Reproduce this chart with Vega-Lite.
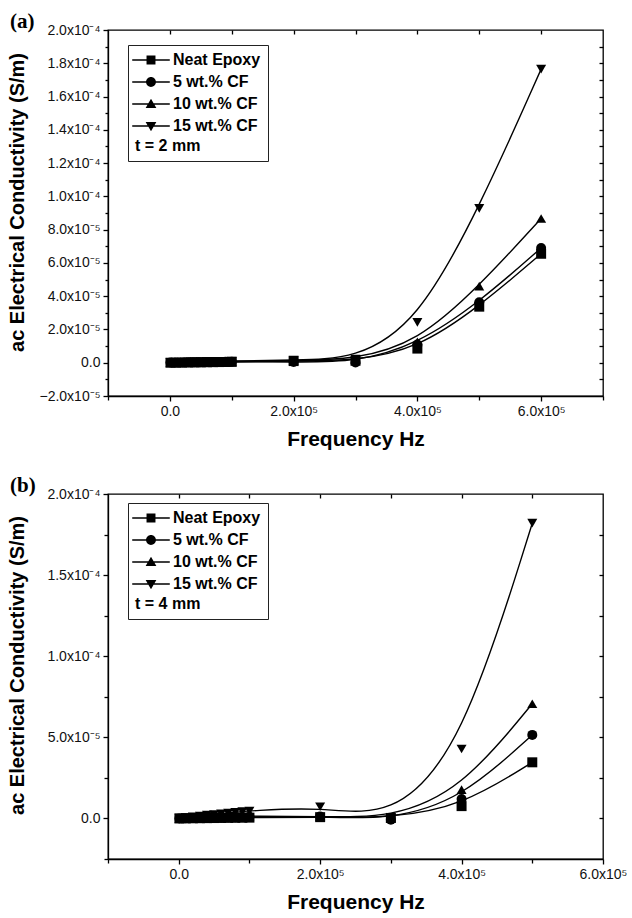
{
  "$schema": "https://vega.github.io/schema/vega-lite/v6.json",
  "padding": {"left": 6, "top": 10, "right": 0, "bottom": 0},
  "spacing": 24,
  "resolve": {"scale": {"shape": "independent"}, "legend": {"shape": "independent"}},
  "config": {
    "view": {"stroke": "black", "strokeWidth": 1.3},
    "font": "Liberation Sans",
    "axis": {
      "domainColor": "black", "domainWidth": 1.3, "tickColor": "black", "tickWidth": 1.3,
      "grid": false, "labelFont": "Liberation Sans", "labelFontSize": 14, "labelColor": "#111",
      "titleFont": "Liberation Sans", "titleFontWeight": "bold", "titleColor": "black", "titleFontSize": 20,
      "labelOverlap": false, "labelFlush": false, "labelBound": false, "labelPadding": 3
    },
    "legend": {
      "strokeColor": "#222", "strokeWidth": 1, "padding": 7,
      "labelFont": "Liberation Sans", "labelFontSize": 16, "labelFontWeight": "bold", "labelColor": "black",
      "titleFont": "Liberation Sans", "titleFontSize": 16, "titleFontWeight": "bold", "titleColor": "black",
      "titleAnchor": "start", "titleOrient": "bottom", "titlePadding": 4,
      "symbolSize": 80, "symbolFillColor": "black", "symbolStrokeColor": "black", "symbolStrokeWidth": 0,
      "symbolOffset": 8, "labelOffset": 14, "rowPadding": 6
    }
  },
  "datasets": {
    "a": [
      {"series": "Neat Epoxy", "f": 1000, "s": 0.0},
      {"series": "Neat Epoxy", "f": 10000, "s": 0.00000005},
      {"series": "Neat Epoxy", "f": 20000, "s": 0.0000001},
      {"series": "Neat Epoxy", "f": 30000, "s": 0.00000015},
      {"series": "Neat Epoxy", "f": 40000, "s": 0.0000002},
      {"series": "Neat Epoxy", "f": 50000, "s": 0.00000025},
      {"series": "Neat Epoxy", "f": 60000, "s": 0.0000003},
      {"series": "Neat Epoxy", "f": 70000, "s": 0.00000035},
      {"series": "Neat Epoxy", "f": 80000, "s": 0.0000004},
      {"series": "Neat Epoxy", "f": 90000, "s": 0.00000045},
      {"series": "Neat Epoxy", "f": 100000, "s": 0.0000005},
      {"series": "Neat Epoxy", "f": 200000, "s": 0.000001},
      {"series": "Neat Epoxy", "f": 300000, "s": 0.0000012},
      {"series": "Neat Epoxy", "f": 400000, "s": 0.0000085},
      {"series": "Neat Epoxy", "f": 500000, "s": 0.0000337},
      {"series": "Neat Epoxy", "f": 600000, "s": 0.0000655},
      {"series": "5 wt.% CF", "f": 1000, "s": 0.0000001},
      {"series": "5 wt.% CF", "f": 10000, "s": 0.00000015},
      {"series": "5 wt.% CF", "f": 20000, "s": 0.0000002},
      {"series": "5 wt.% CF", "f": 30000, "s": 0.00000025},
      {"series": "5 wt.% CF", "f": 40000, "s": 0.0000003},
      {"series": "5 wt.% CF", "f": 50000, "s": 0.00000035},
      {"series": "5 wt.% CF", "f": 60000, "s": 0.0000004},
      {"series": "5 wt.% CF", "f": 70000, "s": 0.00000045},
      {"series": "5 wt.% CF", "f": 80000, "s": 0.0000005},
      {"series": "5 wt.% CF", "f": 90000, "s": 0.00000055},
      {"series": "5 wt.% CF", "f": 100000, "s": 0.0000006},
      {"series": "5 wt.% CF", "f": 200000, "s": 0.0000005},
      {"series": "5 wt.% CF", "f": 300000, "s": 0.0000002},
      {"series": "5 wt.% CF", "f": 400000, "s": 0.000011},
      {"series": "5 wt.% CF", "f": 500000, "s": 0.0000363},
      {"series": "5 wt.% CF", "f": 600000, "s": 0.000069},
      {"series": "10 wt.% CF", "f": 1000, "s": 0.0000001},
      {"series": "10 wt.% CF", "f": 10000, "s": 0.00000018},
      {"series": "10 wt.% CF", "f": 20000, "s": 0.00000025},
      {"series": "10 wt.% CF", "f": 30000, "s": 0.00000032},
      {"series": "10 wt.% CF", "f": 40000, "s": 0.0000004},
      {"series": "10 wt.% CF", "f": 50000, "s": 0.00000047},
      {"series": "10 wt.% CF", "f": 60000, "s": 0.00000055},
      {"series": "10 wt.% CF", "f": 70000, "s": 0.00000062},
      {"series": "10 wt.% CF", "f": 80000, "s": 0.0000007},
      {"series": "10 wt.% CF", "f": 90000, "s": 0.00000075},
      {"series": "10 wt.% CF", "f": 100000, "s": 0.0000008},
      {"series": "10 wt.% CF", "f": 200000, "s": 0.0000012},
      {"series": "10 wt.% CF", "f": 300000, "s": 0.000002},
      {"series": "10 wt.% CF", "f": 400000, "s": 0.0000125},
      {"series": "10 wt.% CF", "f": 500000, "s": 0.000046},
      {"series": "10 wt.% CF", "f": 600000, "s": 0.0000867},
      {"series": "15 wt.% CF", "f": 1000, "s": 0.0000001},
      {"series": "15 wt.% CF", "f": 10000, "s": 0.0000002},
      {"series": "15 wt.% CF", "f": 20000, "s": 0.0000003},
      {"series": "15 wt.% CF", "f": 30000, "s": 0.0000004},
      {"series": "15 wt.% CF", "f": 40000, "s": 0.0000005},
      {"series": "15 wt.% CF", "f": 50000, "s": 0.0000006},
      {"series": "15 wt.% CF", "f": 60000, "s": 0.0000007},
      {"series": "15 wt.% CF", "f": 70000, "s": 0.0000008},
      {"series": "15 wt.% CF", "f": 80000, "s": 0.00000085},
      {"series": "15 wt.% CF", "f": 90000, "s": 0.0000009},
      {"series": "15 wt.% CF", "f": 100000, "s": 0.000001},
      {"series": "15 wt.% CF", "f": 200000, "s": 0.0000016},
      {"series": "15 wt.% CF", "f": 300000, "s": 0.0000022},
      {"series": "15 wt.% CF", "f": 400000, "s": 0.0000243},
      {"series": "15 wt.% CF", "f": 500000, "s": 0.0000928},
      {"series": "15 wt.% CF", "f": 600000, "s": 0.0001765}
    ],
    "b": [
      {"series": "Neat Epoxy", "f": 1000, "s": 0.0},
      {"series": "Neat Epoxy", "f": 10000, "s": 0.00000005},
      {"series": "Neat Epoxy", "f": 20000, "s": 0.0000001},
      {"series": "Neat Epoxy", "f": 30000, "s": 0.00000015},
      {"series": "Neat Epoxy", "f": 40000, "s": 0.0000002},
      {"series": "Neat Epoxy", "f": 50000, "s": 0.00000025},
      {"series": "Neat Epoxy", "f": 60000, "s": 0.0000003},
      {"series": "Neat Epoxy", "f": 70000, "s": 0.00000035},
      {"series": "Neat Epoxy", "f": 80000, "s": 0.0000004},
      {"series": "Neat Epoxy", "f": 90000, "s": 0.00000045},
      {"series": "Neat Epoxy", "f": 100000, "s": 0.0000005},
      {"series": "Neat Epoxy", "f": 200000, "s": 0.0000008},
      {"series": "Neat Epoxy", "f": 300000, "s": 0.0000003},
      {"series": "Neat Epoxy", "f": 400000, "s": 0.0000076},
      {"series": "Neat Epoxy", "f": 500000, "s": 0.0000346},
      {"series": "5 wt.% CF", "f": 1000, "s": 0.0},
      {"series": "5 wt.% CF", "f": 10000, "s": 0.0000001},
      {"series": "5 wt.% CF", "f": 20000, "s": 0.0000002},
      {"series": "5 wt.% CF", "f": 30000, "s": 0.0000003},
      {"series": "5 wt.% CF", "f": 40000, "s": 0.0000004},
      {"series": "5 wt.% CF", "f": 50000, "s": 0.0000005},
      {"series": "5 wt.% CF", "f": 60000, "s": 0.0000006},
      {"series": "5 wt.% CF", "f": 70000, "s": 0.0000007},
      {"series": "5 wt.% CF", "f": 80000, "s": 0.0000008},
      {"series": "5 wt.% CF", "f": 90000, "s": 0.0000009},
      {"series": "5 wt.% CF", "f": 100000, "s": 0.000001},
      {"series": "5 wt.% CF", "f": 200000, "s": 0.0000012},
      {"series": "5 wt.% CF", "f": 300000, "s": -0.0000008},
      {"series": "5 wt.% CF", "f": 400000, "s": 0.000012},
      {"series": "5 wt.% CF", "f": 500000, "s": 0.0000515},
      {"series": "10 wt.% CF", "f": 1000, "s": 0.0},
      {"series": "10 wt.% CF", "f": 10000, "s": 0.00000015},
      {"series": "10 wt.% CF", "f": 20000, "s": 0.0000003},
      {"series": "10 wt.% CF", "f": 30000, "s": 0.00000045},
      {"series": "10 wt.% CF", "f": 40000, "s": 0.0000006},
      {"series": "10 wt.% CF", "f": 50000, "s": 0.00000075},
      {"series": "10 wt.% CF", "f": 60000, "s": 0.0000009},
      {"series": "10 wt.% CF", "f": 70000, "s": 0.00000105},
      {"series": "10 wt.% CF", "f": 80000, "s": 0.0000012},
      {"series": "10 wt.% CF", "f": 90000, "s": 0.00000135},
      {"series": "10 wt.% CF", "f": 100000, "s": 0.0000015},
      {"series": "10 wt.% CF", "f": 200000, "s": 0.0000013},
      {"series": "10 wt.% CF", "f": 300000, "s": 0.0000002},
      {"series": "10 wt.% CF", "f": 400000, "s": 0.0000178},
      {"series": "10 wt.% CF", "f": 500000, "s": 0.0000707},
      {"series": "15 wt.% CF", "f": 1000, "s": 0.0000002},
      {"series": "15 wt.% CF", "f": 10000, "s": 0.0000006},
      {"series": "15 wt.% CF", "f": 20000, "s": 0.000001},
      {"series": "15 wt.% CF", "f": 30000, "s": 0.0000015},
      {"series": "15 wt.% CF", "f": 40000, "s": 0.000002},
      {"series": "15 wt.% CF", "f": 50000, "s": 0.0000024},
      {"series": "15 wt.% CF", "f": 60000, "s": 0.0000029},
      {"series": "15 wt.% CF", "f": 70000, "s": 0.0000033},
      {"series": "15 wt.% CF", "f": 80000, "s": 0.0000038},
      {"series": "15 wt.% CF", "f": 90000, "s": 0.0000042},
      {"series": "15 wt.% CF", "f": 100000, "s": 0.0000046},
      {"series": "15 wt.% CF", "f": 200000, "s": 0.0000072},
      {"series": "15 wt.% CF", "f": 300000, "s": 0.0},
      {"series": "15 wt.% CF", "f": 400000, "s": 0.0000428},
      {"series": "15 wt.% CF", "f": 500000, "s": 0.000182}
    ]
  },
  "vconcat": [
    {
      "width": 495, "height": 366,
      "data": {"name": "a"},
      "title": {"text": "(a)", "anchor": "start", "frame": "group", "dx": -98, "offset": 0, "dy": 26, "baseline": "alphabetic", "font": "Liberation Serif", "fontSize": 21, "fontWeight": "bold", "color": "black"},
      "resolve": {"scale": {"shape": "independent"}, "axis": {"x": "independent", "y": "independent"}},
      "layer": [
        {"mark": {"type": "line", "interpolate": "basis", "color": "black", "strokeWidth": 1.4},
          "encoding": {
            "x": {"field": "f", "type": "quantitative", "scale": {"domain": [-100000, 700000], "nice": false, "zero": false},
              "axis": {"orient": "bottom", "title": "Frequency Hz", "titleFontSize": 21, "titlePadding": 10,
                "values": [-100000, 0, 100000, 200000, 300000, 400000, 500000, 600000, 700000],
                "labelExpr": "round(datum.value/100000) == 0 ? '0.0' : (round(datum.value/100000) % 2 != 0 || datum.value < 0 ? '' : format(round(datum.value/100000), '.1f') + 'x10⁵')",
                "tickSize": {"condition": {"test": "round(datum.value/100000) % 2 != 0", "value": 4}, "value": 5}}},
            "y": {"field": "s", "type": "quantitative", "scale": {"domain": [-0.00002, 0.0002], "nice": false, "zero": false},
              "axis": {"orient": "left", "title": "ac Electrical Conductivity (S/m)", "titleX": -81, "titleY": 172,
                "values": [-0.00002, -0.00001, 0, 0.00001, 0.00002, 0.00003, 0.00004, 0.00005, 0.00006, 0.00007, 0.00008, 0.00009, 0.0001, 0.00011, 0.00012, 0.00013, 0.00014, 0.00015, 0.00016, 0.00017, 0.00018, 0.00019, 0.0002],
                "labelExpr": "round(datum.value*1e6) == 0 ? '0.0' : (round(datum.value*1e6) % 20 != 0 ? '' : (abs(round(datum.value*1e6)) >= 100 ? format(datum.value*1e4, '.1f') + 'x10⁻⁴' : format(datum.value*1e5, '.1f') + 'x10⁻⁵'))",
                "tickSize": {"condition": {"test": "round(datum.value*1e6) % 20 != 0", "value": 3}, "value": 5}}},
            "detail": {"field": "series"}
          }
        },
        {"mark": {"type": "point", "filled": true, "color": "black", "size": 100, "opacity": 1},
          "encoding": {
            "x": {"field": "f", "type": "quantitative", "axis": null},
            "y": {"field": "s", "type": "quantitative", "axis": null},
            "shape": {"field": "series", "type": "nominal",
              "scale": {"domain": ["Neat Epoxy", "5 wt.% CF", "10 wt.% CF", "15 wt.% CF"], "range": ["square", "circle", "triangle-up", "triangle-down"]},
              "legend": null}}
        },
        {"transform": [{"filter": "false"}],
          "mark": {"type": "point", "filled": true, "color": "black", "size": 80, "opacity": 1},
          "encoding": {
            "x": {"field": "f", "type": "quantitative",
              "axis": {"orient": "top", "title": null, "labels": false, "domain": false, "offset": -4, "tickSize": 4,
                "values": [0, 100000, 200000, 300000, 400000, 500000, 600000]}},
            "y": {"field": "s", "type": "quantitative",
              "axis": {"orient": "right", "title": null, "labels": false, "domain": false, "offset": -4, "tickSize": 4,
                "values": [-0.00001, 0, 0.00001, 0.00002, 0.00003, 0.00004, 0.00005, 0.00006, 0.00007, 0.00008, 0.00009, 0.0001, 0.00011, 0.00012, 0.00013, 0.00014, 0.00015, 0.00016, 0.00017, 0.00018, 0.00019]}},
            "shape": {"field": "series", "type": "nominal",
              "scale": {"domain": ["Neat Epoxy", "5 wt.% CF", "10 wt.% CF", "15 wt.% CF"],
                "range": ["M-4.2,-0.15H4.2V0.15H-4.2ZM-1,-1H1V1H-1Z", "M-4.2,-0.15H4.2V0.15H-4.2ZM-1.1,0A1.1,1.1 0 1,1 1.1,0A1.1,1.1 0 1,1 -1.1,0Z", "M-4.2,-0.15H4.2V0.15H-4.2ZM0,-1.2L1.2,0.9H-1.2Z", "M-4.2,-0.15H4.2V0.15H-4.2ZM0,1.2L-1.2,-0.9H1.2Z"]},
              "legend": {"title": "t = 2 mm", "orient": "none", "legendX": 20, "legendY": 15}}
          }
        }
      ]
    },
    {
      "width": 495, "height": 365,
      "data": {"name": "b"},
      "title": {"text": "(b)", "anchor": "start", "frame": "group", "dx": -98, "offset": 0, "dy": 26, "baseline": "alphabetic", "font": "Liberation Serif", "fontSize": 21, "fontWeight": "bold", "color": "black"},
      "resolve": {"scale": {"shape": "independent"}, "axis": {"x": "independent", "y": "independent"}},
      "layer": [
        {"mark": {"type": "line", "interpolate": "basis", "color": "black", "strokeWidth": 1.4},
          "encoding": {
            "x": {"field": "f", "type": "quantitative", "scale": {"domain": [-100000, 600000], "nice": false, "zero": false},
              "axis": {"orient": "bottom", "title": "Frequency Hz", "titleFontSize": 21, "titlePadding": 10,
                "values": [-100000, 0, 100000, 200000, 300000, 400000, 500000, 600000],
                "labelExpr": "round(datum.value/100000) == 0 ? '0.0' : (round(datum.value/100000) % 2 != 0 || datum.value < 0 ? '' : format(round(datum.value/100000), '.1f') + 'x10⁵')",
                "tickSize": {"condition": {"test": "round(datum.value/100000) % 2 != 0", "value": 4}, "value": 5}}},
            "y": {"field": "s", "type": "quantitative", "scale": {"domain": [-0.000025, 0.0002], "nice": false, "zero": false},
              "axis": {"orient": "left", "title": "ac Electrical Conductivity (S/m)", "titleX": -81, "titleY": 171,
                "values": [-0.000025, 0, 0.000025, 0.00005, 0.000075, 0.0001, 0.000125, 0.00015, 0.000175, 0.0002],
                "labelExpr": "round(datum.value*1e6) == 0 ? '0.0' : (round(datum.value*1e6) % 50 != 0 ? '' : (abs(round(datum.value*1e6)) >= 100 ? format(datum.value*1e4, '.1f') + 'x10⁻⁴' : format(datum.value*1e5, '.1f') + 'x10⁻⁵'))",
                "tickSize": {"condition": {"test": "round(datum.value*1e6) % 50 != 0", "value": 4}, "value": 5}}},
            "detail": {"field": "series"}
          }
        },
        {"mark": {"type": "point", "filled": true, "color": "black", "size": 100, "opacity": 1},
          "encoding": {
            "x": {"field": "f", "type": "quantitative", "axis": null},
            "y": {"field": "s", "type": "quantitative", "axis": null},
            "shape": {"field": "series", "type": "nominal",
              "scale": {"domain": ["Neat Epoxy", "5 wt.% CF", "10 wt.% CF", "15 wt.% CF"], "range": ["square", "circle", "triangle-up", "triangle-down"]},
              "legend": null}}
        },
        {"transform": [{"filter": "false"}],
          "mark": {"type": "point", "filled": true, "color": "black", "size": 80, "opacity": 1},
          "encoding": {
            "x": {"field": "f", "type": "quantitative",
              "axis": {"orient": "top", "title": null, "labels": false, "domain": false, "offset": -4, "tickSize": 4,
                "values": [0, 100000, 200000, 300000, 400000, 500000]}},
            "y": {"field": "s", "type": "quantitative",
              "axis": {"orient": "right", "title": null, "labels": false, "domain": false, "offset": -4, "tickSize": 4,
                "values": [0, 0.000025, 0.00005, 0.000075, 0.0001, 0.000125, 0.00015, 0.000175]}},
            "shape": {"field": "series", "type": "nominal",
              "scale": {"domain": ["Neat Epoxy", "5 wt.% CF", "10 wt.% CF", "15 wt.% CF"],
                "range": ["M-4.2,-0.15H4.2V0.15H-4.2ZM-1,-1H1V1H-1Z", "M-4.2,-0.15H4.2V0.15H-4.2ZM-1.1,0A1.1,1.1 0 1,1 1.1,0A1.1,1.1 0 1,1 -1.1,0Z", "M-4.2,-0.15H4.2V0.15H-4.2ZM0,-1.2L1.2,0.9H-1.2Z", "M-4.2,-0.15H4.2V0.15H-4.2ZM0,1.2L-1.2,-0.9H1.2Z"]},
              "legend": {"title": "t = 4 mm", "orient": "none", "legendX": 20, "legendY": 9}}
          }
        }
      ]
    }
  ]
}
